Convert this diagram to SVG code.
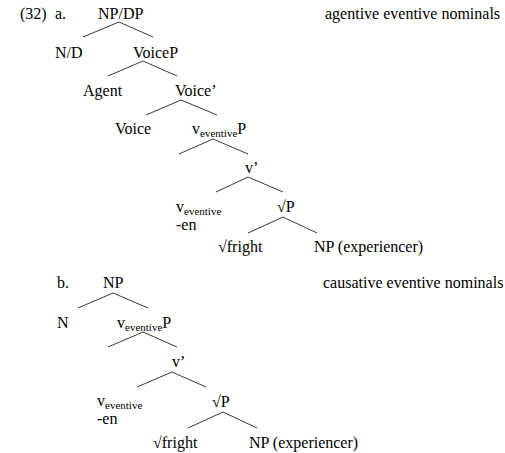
<svg xmlns="http://www.w3.org/2000/svg" width="505" height="453" viewBox="0 0 505 453">
<style>
text{font-family:"Liberation Serif","Times New Roman",serif;font-size:16px;fill:#000}
.sub{font-size:11px}
.br{stroke:#222;stroke-width:0.9;fill:none}
</style>
<rect width="505" height="453" fill="#fff"/>
<g id="labels">
<text x="20" y="19">(32)</text>
<text x="55" y="19">a.</text>
<text x="325" y="19">agentive eventive nominals</text>
<text x="57" y="288">b.</text>
<text x="323" y="288">causative eventive nominals</text>
</g>
<g id="a-NPDP"><text x="98" y="19">NP/DP</text></g>
<g id="a-ND"><text x="55" y="58">N/D</text></g>
<g id="a-VoiceP"><text x="133" y="58">VoiceP</text></g>
<g id="a-Agent"><text x="83" y="96">Agent</text></g>
<g id="a-VoiceBar"><text x="175" y="96">Voice’</text></g>
<g id="a-Voice"><text x="115" y="134">Voice</text></g>
<g id="a-vP"><text x="192" y="134">v<tspan class="sub" dy="2.5">eventive</tspan><tspan dy="-2.5">P</tspan></text></g>
<g id="a-vBar"><text x="245" y="173">v’</text></g>
<g id="a-v"><text x="176" y="212">v<tspan class="sub" dy="2.5">eventive</tspan></text><text x="176" y="230">-en</text></g>
<g id="a-rootP"><text x="277" y="212">√P</text></g>
<g id="a-root"><text x="218" y="252">√fright</text></g>
<g id="a-NPexp"><text x="314" y="252">NP (experiencer)</text></g>
<g id="b-NP"><text x="103" y="288">NP</text></g>
<g id="b-N"><text x="57" y="328">N</text></g>
<g id="b-vP"><text x="117" y="328">v<tspan class="sub" dy="2.5">eventive</tspan><tspan dy="-2.5">P</tspan></text></g>
<g id="b-vBar"><text x="172" y="367">v’</text></g>
<g id="b-v"><text x="97" y="406">v<tspan class="sub" dy="2.5">eventive</tspan></text><text x="97" y="424">-en</text></g>
<g id="b-rootP"><text x="212" y="407">√P</text></g>
<g id="b-root"><text x="153" y="448">√fright</text></g>
<g id="b-NPexp"><text x="249" y="448">NP (experiencer)</text></g>
<g id="connectors" class="br">
<polyline points="83,37 119,22 153,37"/>
<polyline points="108,76 143,61 177,76"/>
<polyline points="146,115 181,100 217,115"/>
<polyline points="179,154 213,139 248,154"/>
<polyline points="216,192 248,177 283,192"/>
<polyline points="248,233 283,217 317,233"/>
<polyline points="78,308 113,293 148,308"/>
<polyline points="108,347 143,332 177,347"/>
<polyline points="137,387 172,372 206,387"/>
<polyline points="188,428 223,412 257,428"/>
</g>
</svg>
